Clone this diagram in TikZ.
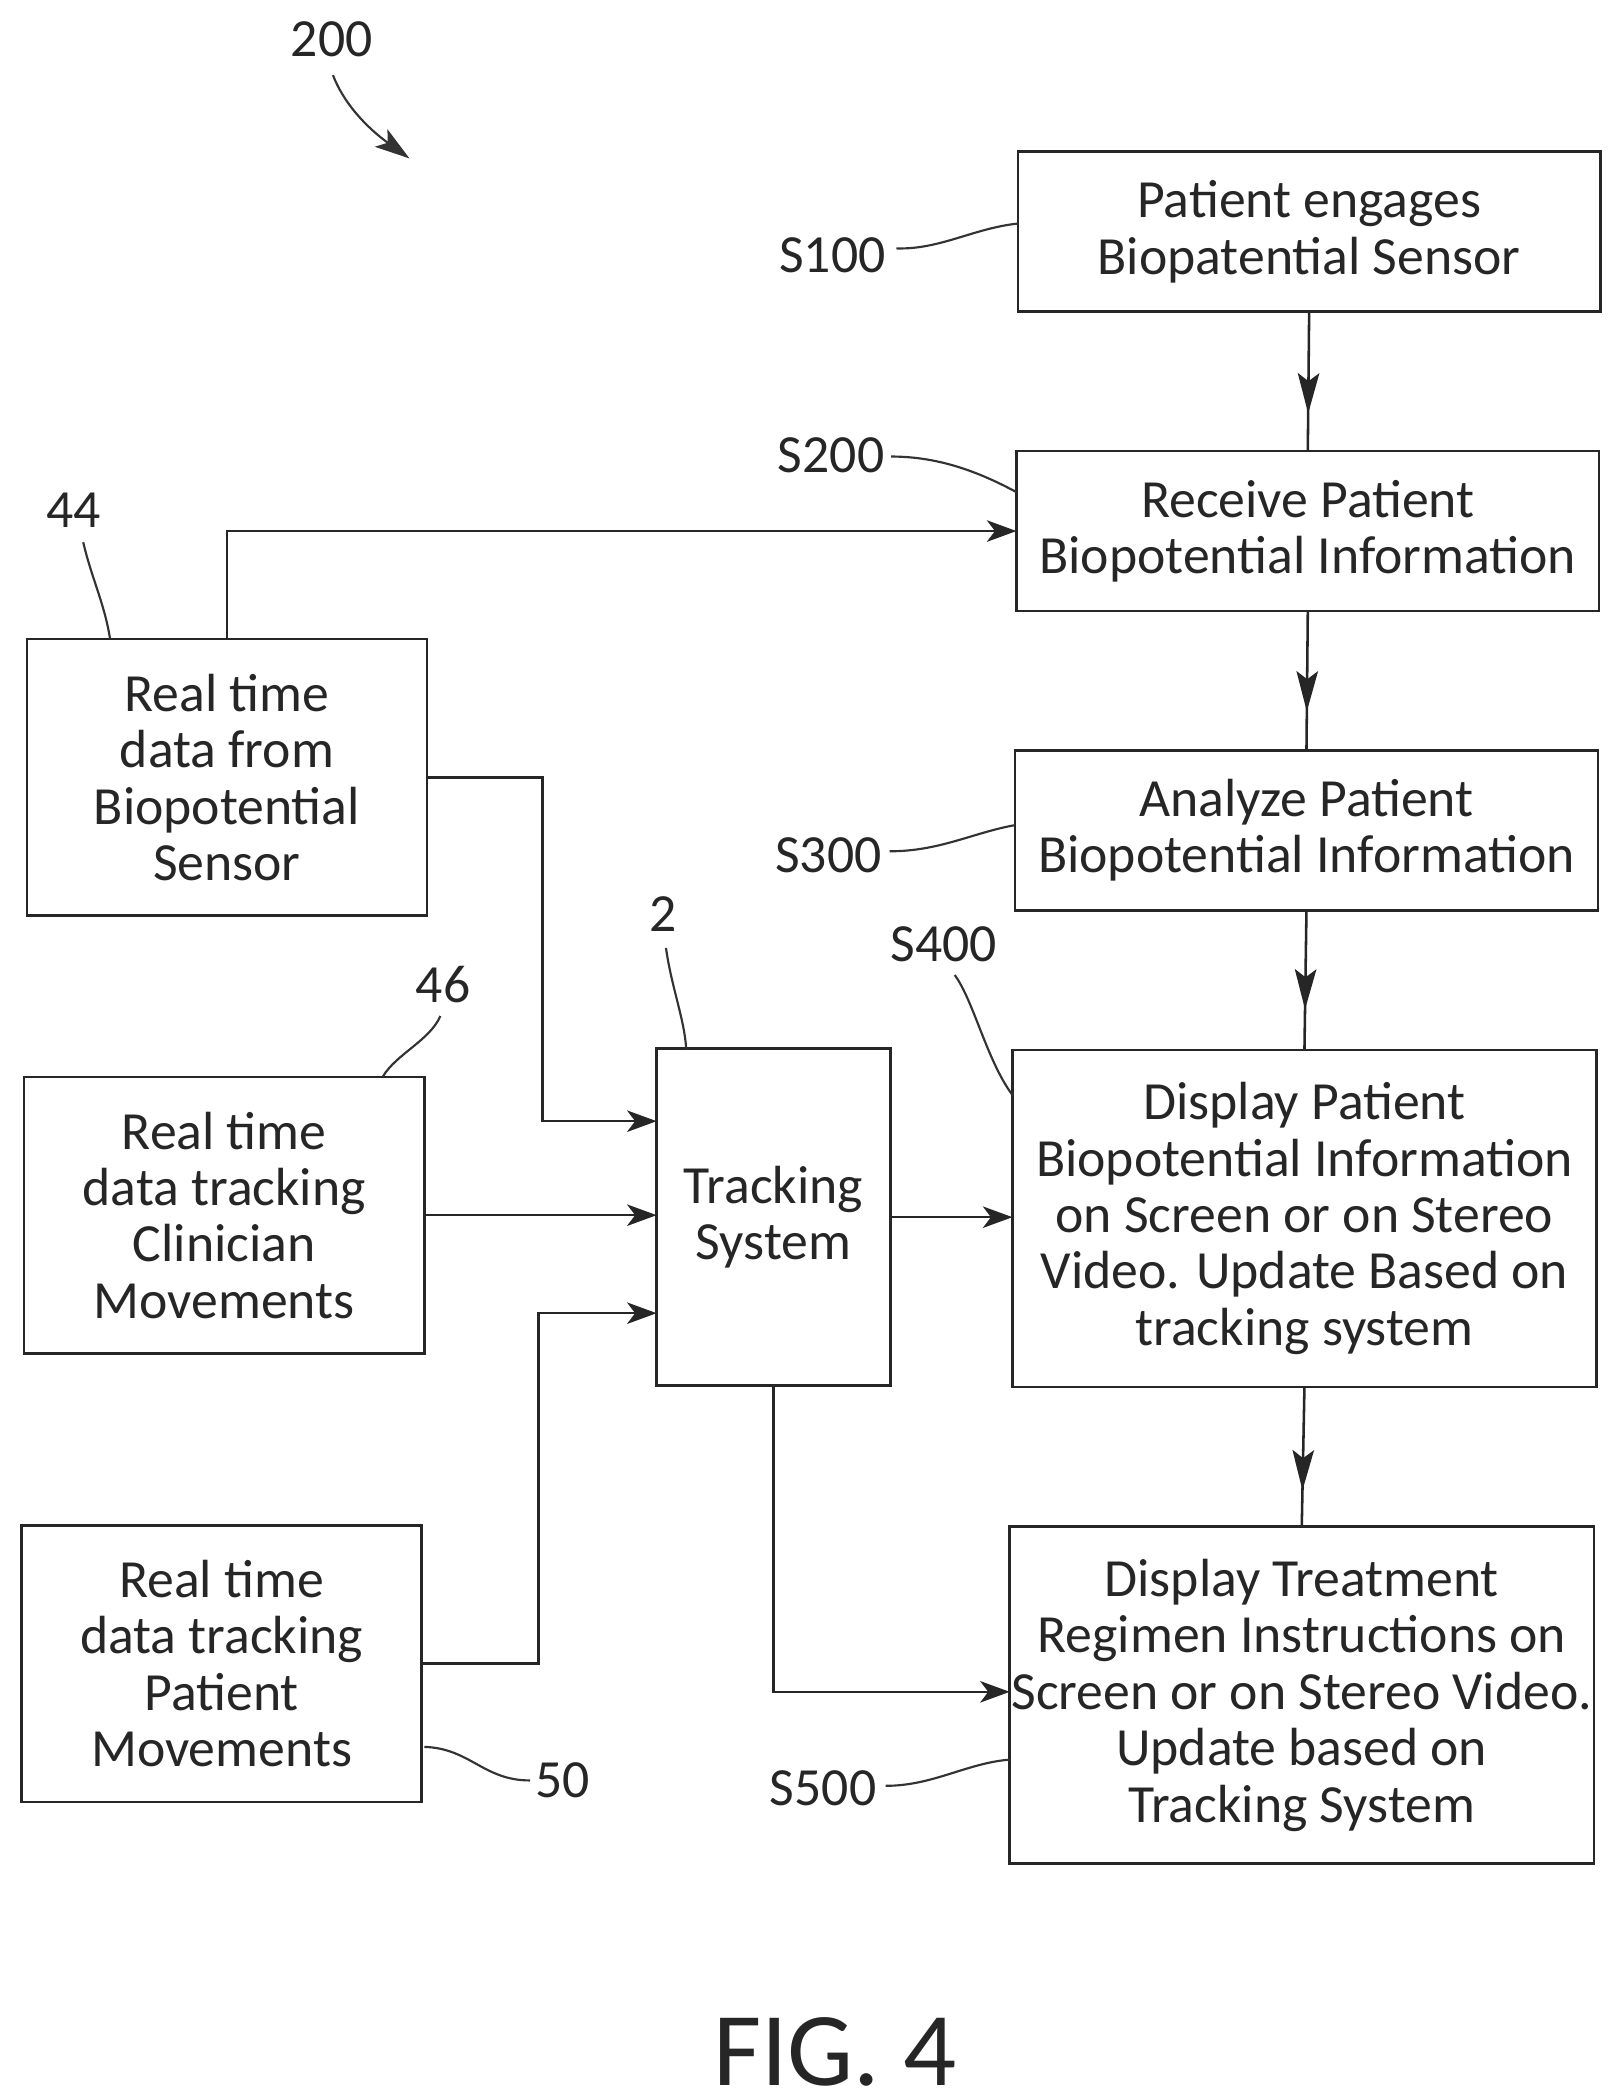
\documentclass[tikz,border=0pt]{standalone}
\usepackage{fontspec}
\setmainfont{Carlito}
\usetikzlibrary{arrows.meta,decorations.markings,calc}
\tikzset{
  x=0.5pt,y=-0.5pt,
  every node/.style={inner sep=0pt,outer sep=0pt},
  ln/.style={line width=0.95pt,draw=black!85},
  lead/.style={line width=0.8pt,draw=black!80},
  tip/.style={-{Stealth[length=11pt,width=8pt,inset=3pt]}},
  midtip/.style={postaction={decorate},decoration={markings,mark=at position #1 with {\arrow{Stealth[length=15pt,width=8pt,inset=3pt]}}}},
  boxn/.style={ln,draw,rectangle,align=center,font=\fontsize{20}{21}\selectfont,text=black!85},
  ref/.style={font=\fontsize{20}{21}\selectfont,text=black!85},
}
\begin{document}
\begin{tikzpicture}
\useasboundingbox (0,0) rectangle (1208,1564);
% boxes
\node[boxn,minimum width=217pt,minimum height=59.5pt] (b1) at (975,172.5) {Patient engages\\Biopatential Sensor};
\node[boxn,minimum width=217pt,minimum height=59.5pt] (b2) at (974,395.5) {Receive Patient\\Biopotential Information};
\node[boxn,minimum width=217pt,minimum height=59.5pt] (b3) at (973,618.5) {Analyze Patient\\Biopotential Information};
\node[boxn,minimum width=217.5pt,minimum height=125.5pt] (b4) at (971.5,907.5) {Display Patient\\Biopotential Information\\on Screen or on Stereo\\Video. Update Based on\\tracking system};
\node[boxn,minimum width=217.5pt,minimum height=125.5pt] (b5) at (969.5,1262.5) {Display Treatment\\Regimen Instructions on\\Screen or on Stereo Video.\\Update based on\\Tracking System};
\node[boxn,minimum width=149pt,minimum height=103pt] (a44) at (169,579) {Real time\\data from\\Biopotential\\Sensor};
\node[boxn,minimum width=149pt,minimum height=103pt] (a46) at (167,905) {Real time\\data tracking\\Clinician\\Movements};
\node[boxn,minimum width=149pt,minimum height=103pt] (a50) at (165,1239) {Real time\\data tracking\\Patient\\Movements};
\node[boxn,minimum width=87pt,minimum height=125.5pt] (ts) at (576,906.5) {Tracking\\System};
% labels
\node[ref] (l200) at (247,29) {200};
\node[ref] (s100) at (620,190) {S100};
\node[ref] (s200) at (619,339) {S200};
\node[ref] (s300) at (617,637) {S300};
\node[ref] (s400) at (703,703) {S400};
\node[ref] (s500) at (613,1332) {S500};
\node[ref] (l44) at (55,380) {44};
\node[ref] (l46) at (330,733) {46};
\node[ref] (l2) at (494,681) {2};
\node[ref] (l50) at (419,1326) {50};
\node[font=\fontsize{39}{40}\selectfont,text=black!85] (fig) at (622,1528) {FIG. 4};
% coordinates
\coordinate (c200) at (305,118);
\coordinate (t1) at (489,835);
\coordinate (t3) at (489,978);
\coordinate (b5in) at (752,1260);
% flow
\draw[ln,midtip=0.73] (b1.south) -- (b2.north);
\draw[ln,midtip=0.72] (b2.south) -- (b3.north);
\draw[ln,midtip=0.71] (b3.south) -- (b4.north);
\draw[ln,midtip=0.74] (b4.south) -- (b5.north);
\draw[ln,tip] (a44.north) |- (b2.west);
\draw[ln,tip] (a44.east) -- ++(86,0) |- (t1);
\draw[ln,tip] (a46.east) -- (a46.east -| ts.west);
\draw[ln,tip] (a50.east) -- ++(87,0) |- (t3);
\draw[ln,tip] (ts.east) -- (ts.east -| b4.west);
\draw[ln,tip] (ts.south) |- (b5in);
% leaders
\draw[lead,-{Stealth[length=13pt,width=8pt,inset=3pt]}] (248,56) .. controls (258,82) and (280,100) .. (c200);
\draw[lead] ($(s100.east)+(8,-5)$) .. controls (700,186) and (725,170) .. ($(b1.west)+(0,-6)$);
\draw[lead] ($(s200.east)+(5,1)$) .. controls (700,340) and (730,352) .. ($(b2.west)+(0,-29)$);
\draw[lead] ($(s300.east)+(6,-3)$) .. controls (700,634) and (725,620) .. ($(b3.west)+(0,-4)$);
\draw[lead] ($(s400.south)+(8,10)$) .. controls (725,745) and (735,790) .. ($(b4.west)+(0,-92)$);
\draw[lead] ($(s500.east)+(7,-2)$) .. controls (695,1330) and (720,1313) .. ($(b5.west)+(0,48)$);
\draw[lead] ($(l44.south)+(7,11)$) .. controls (68,430) and (78,450) .. ($(a44.north west)+(62,0)$);
\draw[lead] ($(l46.south)+(-2,10)$) .. controls (320,775) and (295,785) .. ($(a46.north west)+(267,0)$);
\draw[lead] ($(l2.south)+(2,12)$) .. controls (500,735) and (510,760) .. ($(ts.north west)+(22,0)$);
\draw[lead] ($(a50.south east)+(2,-41)$) .. controls (350,1302) and (360,1326) .. ($(l50.west)+(-4,0)$);
\end{tikzpicture}
\end{document}
